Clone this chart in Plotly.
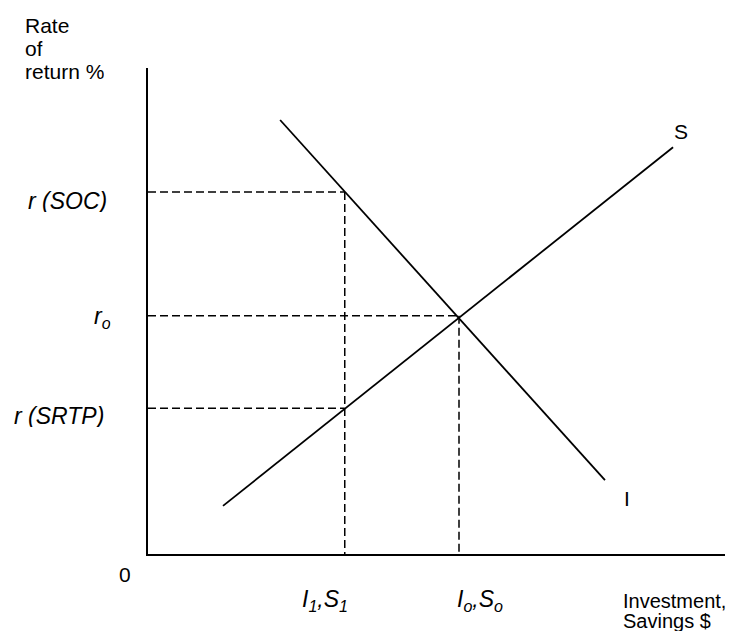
import plotly.graph_objects as go

# investment (I) and savings (S) schedules, in chart units
i_x = [2.29, 7.92]
i_y = [8.93, 1.52]
s_x = [1.30, 9.10]
s_y = [0.99, 8.37]

# quantities and rates marked on the axes
q_1 = 3.41
q_o = 5.39
r_soc = 7.45
r_o = 4.90
r_srtp = 3.00

family = "Arial, Liberation Sans, sans-serif"
dash = dict(color="black", width=1.5, dash="8px,4px")

fig = go.Figure()

# dashed guide lines
for xs, ys in [
    ([0, q_1], [r_soc, r_soc]),
    ([q_1, q_1], [r_soc, 0]),
    ([0, q_o], [r_o, r_o]),
    ([q_o, q_o], [r_o, 0]),
    ([0, q_1], [r_srtp, r_srtp]),
]:
    fig.add_trace(go.Scatter(x=xs, y=ys, mode="lines", line=dash, hoverinfo="skip"))

fig.add_trace(go.Scatter(x=i_x, y=i_y, mode="lines", name="I",
                         line=dict(color="black", width=1.8)))
fig.add_trace(go.Scatter(x=s_x, y=s_y, mode="lines", name="S",
                         line=dict(color="black", width=1.8)))

labels = [
    # text, x, y, xanchor, size  (chart units, axes run 0..10)
    ("Rate", -2.17, 10.88, "left", 21),
    ("of", -2.17, 10.41, "left", 21),
    ("return %", -2.17, 9.92, "left", 21),
    ("<i>r (SOC)</i>", -0.68, r_soc - 0.17, "right", 23),
    ("<i>r<sub>o</sub></i>", -0.60, r_o - 0.04, "right", 23),
    ("<i>r (SRTP)</i>", -0.73, r_srtp - 0.16, "right", 23),
    ("0", -0.40, -0.43, "center", 21),
    ("<i>I<sub>1</sub>,S<sub>1</sub></i>", q_1 - 0.34, -0.95, "center", 23),
    ("<i>I<sub>o</sub>,S<sub>o</sub></i>", q_o + 0.36, -0.95, "center", 23),
    ("I", i_x[1] + 0.38, i_y[1] - 0.37, "center", 21),
    ("S", s_x[1] + 0.14, s_y[1] + 0.33, "center", 21),
    ("Investment,", 8.20, -0.97, "left", 20),
    ("Savings $", 8.20, -1.37, "left", 20),
]
for text, x, y, anchor, size in labels:
    fig.add_annotation(x=x / 10, y=y / 10, xref="paper", yref="paper", text=text,
                       showarrow=False, xanchor=anchor, yanchor="middle", height=size,
                       font=dict(family=family, size=size, color="black"))

# page body adds an 8px offset, so the figure is 8px smaller than the window
fig.update_layout(
    width=727, height=624,
    margin=dict(l=140, r=10, t=60, b=78),
    paper_bgcolor="white", plot_bgcolor="white",
    showlegend=False,
)
fig.update_xaxes(range=[0, 10], showline=True, linecolor="black", linewidth=2,
                 showgrid=False, zeroline=False, showticklabels=False, ticks="")
fig.update_yaxes(range=[0, 10], showline=True, linecolor="black", linewidth=2,
                 showgrid=False, zeroline=False, showticklabels=False, ticks="")

fig.write_html("out.html")
